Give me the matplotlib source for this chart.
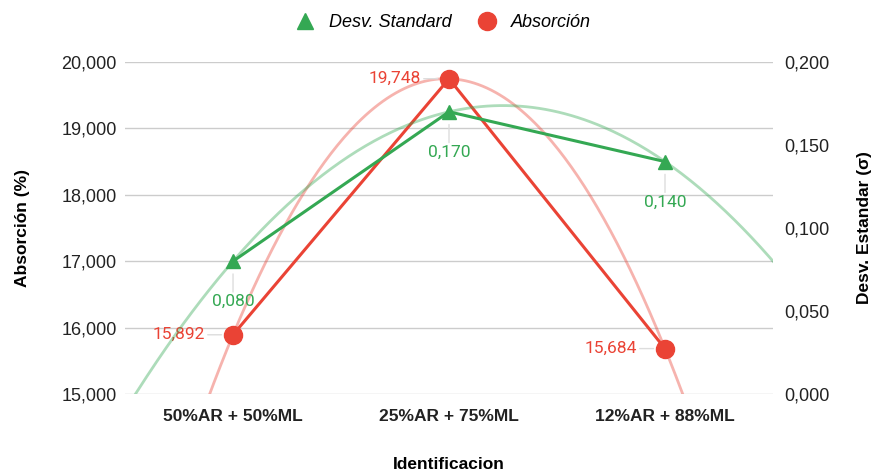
import numpy as np
import matplotlib.pyplot as plt
from matplotlib.ticker import FuncFormatter
from matplotlib.lines import Line2D

plt.rcParams['font.family'] = ['Liberation Sans', 'DejaVu Sans']

categories = ["50%AR + 50%ML", "25%AR + 75%ML", "12%AR + 88%ML"]
absorcion = [15.892, 19.748, 15.684]
desv_std = [0.080, 0.170, 0.140]

left_ticks = [15, 16, 17, 18, 19, 20]
right_ticks = [0.0, 0.05, 0.10, 0.15, 0.20]

RED = "#EA4335"
GREEN = "#34A853"
LABEL_FONT = ['Roboto', 'DejaVu Sans']


def comma(v, pos=None):
    return f"{v:.3f}".replace(".", ",")


fig = plt.figure(figsize=(8.78, 4.75), dpi=100)
ax = fig.add_axes([0.1424, 0.1705, 0.738, 0.699])
ax2 = ax.twinx()

x = np.arange(len(categories))
xs = np.linspace(-0.5, 2.5, 300)

# polynomial (deg 2) trendlines
p_abs = np.polyfit(x, absorcion, 2)
p_dev = np.polyfit(x, desv_std, 2)
ax.plot(xs, np.polyval(p_abs, xs), color=RED, alpha=0.4, lw=2, zorder=2)
ax2.plot(xs, np.polyval(p_dev, xs), color=GREEN, alpha=0.4, lw=2, zorder=2)

ax.plot(x, absorcion, color=RED, lw=2.2, marker="o", ms=13, zorder=4)
ax2.plot(x, desv_std, color=GREEN, lw=2.2, marker="^", ms=10, zorder=4)

for xi, v in zip(x, absorcion):
    ax.annotate(comma(v), (xi, v), xytext=(-20, 0),
                textcoords="offset points", ha="right", va="center",
                color=RED, fontsize=12.5, family=LABEL_FONT, zorder=5)
    ax.annotate("", (xi - 0.04, v), xytext=(-14, 0), textcoords="offset points",
                arrowprops=dict(arrowstyle="-", color="#dddddd", lw=1))
for xi, v in zip(x, desv_std):
    ax2.annotate(comma(v), (xi, v), xytext=(0, -29),
                 textcoords="offset points", ha="center", va="center",
                 color=GREEN, fontsize=12.5, family=LABEL_FONT, zorder=5)
    ax2.annotate("", (xi, v - 0.006), xytext=(0, -17), textcoords="offset points",
                 arrowprops=dict(arrowstyle="-", color="#dddddd", lw=1))

ax.set_xlim(-0.5, 2.5)
ax.set_ylim(15, 20)
ax2.set_ylim(0, 0.2)
ax.set_yticks(left_ticks)
ax2.set_yticks(right_ticks)
ax.yaxis.set_major_formatter(FuncFormatter(comma))
ax2.yaxis.set_major_formatter(FuncFormatter(comma))
ax.set_xticks(x)
ax.set_xticklabels(categories, fontweight="bold", fontsize=12.5)

ax.grid(axis="y", color="#cccccc", lw=1)
ax.set_axisbelow(True)
for a in (ax, ax2):
    for s in a.spines.values():
        s.set_visible(False)
    a.tick_params(length=0, labelsize=13, colors="#222222")
ax.tick_params(axis="y", pad=6)
ax2.tick_params(axis="y", pad=8)
ax.tick_params(axis="x", pad=11, labelsize=12.5)

ax.set_ylabel("Absorción (%)", fontweight="bold", fontsize=12.5)
ax2.set_ylabel("Desv. Estandar (σ)", fontweight="bold", fontsize=12.5)
ax.set_xlabel("Identificacion", fontweight="bold", fontsize=12.5)
ax.yaxis.set_label_coords(-0.147, 0.5)
ax2.yaxis.set_label_coords(1.13, 0.5)
ax.xaxis.set_label_coords(0.5, -0.19)

handles = [Line2D([], [], color=GREEN, marker="^", ls="none", ms=11),
           Line2D([], [], color=RED, marker="o", ls="none", ms=13)]
fig.legend(handles, ["Desv. Standard", "Absorción"], loc="upper center",
           bbox_to_anchor=(0.5, 1.005), ncol=2, frameon=False,
           prop={"style": "italic", "size": 13}, handletextpad=0.3,
           columnspacing=1.0)

fig.savefig("out.png", dpi=100)
